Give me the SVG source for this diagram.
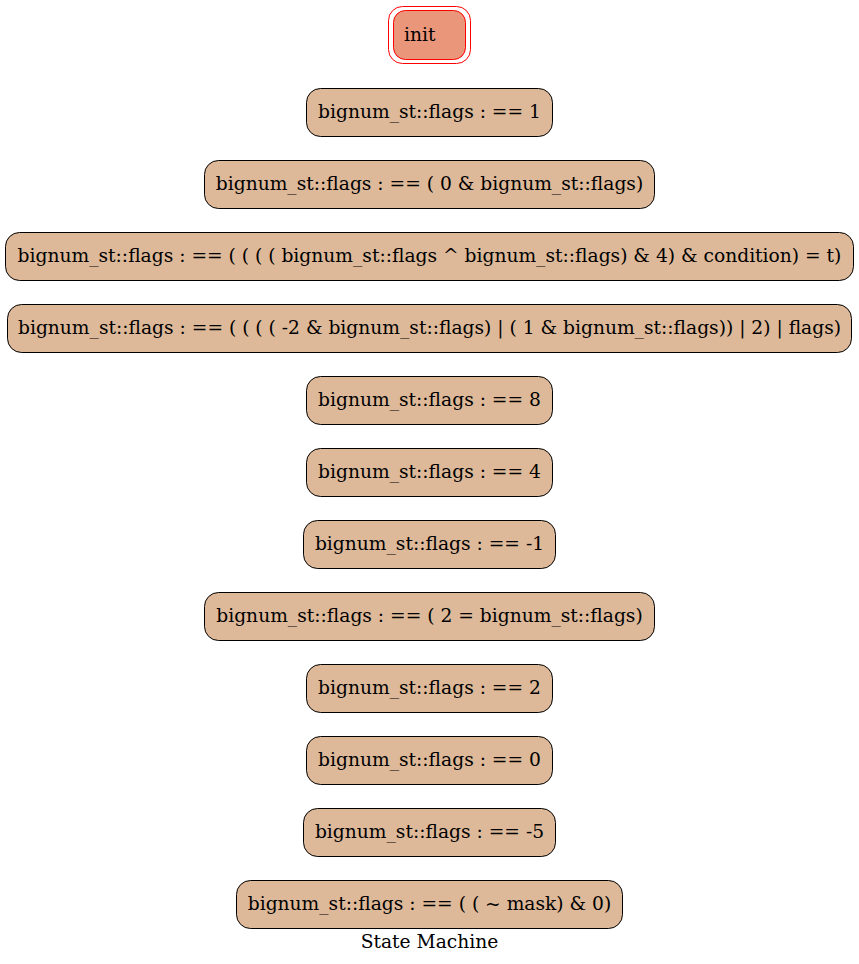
<svg xmlns="http://www.w3.org/2000/svg" width="859" height="964" viewBox="0 0 859 964">
<style>
.n rect{fill:#ddb999;stroke:#000;stroke-width:1}
text{font-family:"DejaVu Serif","Liberation Serif",serif;font-size:18.67px;fill:#000}
.c{text-anchor:middle}
</style>
<rect x="0" y="0" width="859" height="964" fill="#fff"/>
<g id="connectors"></g>
<g id="init">
<rect x="388.5" y="6.5" width="82" height="57" rx="14" fill="none" stroke="#ff0000"/>
<rect x="393.5" y="10.5" width="72" height="49" rx="12" fill="#e9967a" stroke="#ff0000"/>
<text x="404" y="41">init</text>
</g>
<g id="n1" class="n"><rect x="306.5" y="88.5" width="246" height="48" rx="14"/><text class="c" x="429.5" y="118">bignum_st::flags : == 1</text></g>
<g id="n2" class="n"><rect x="204.5" y="160.5" width="450" height="48" rx="14"/><text class="c" x="429.5" y="190">bignum_st::flags : == ( 0 &amp; bignum_st::flags)</text></g>
<g id="n3" class="n"><rect x="5.5" y="232.5" width="848" height="48" rx="14"/><text class="c" x="429.5" y="262">bignum_st::flags : == ( ( ( ( bignum_st::flags ^ bignum_st::flags) &amp; 4) &amp; condition) = t)</text></g>
<g id="n4" class="n"><rect x="7.5" y="304.5" width="844" height="48" rx="14"/><text class="c" x="429.5" y="334">bignum_st::flags : == ( ( ( ( -2 &amp; bignum_st::flags) | ( 1 &amp; bignum_st::flags)) | 2) | flags)</text></g>
<g id="n5" class="n"><rect x="306.5" y="376.5" width="246" height="48" rx="14"/><text class="c" x="429.5" y="406">bignum_st::flags : == 8</text></g>
<g id="n6" class="n"><rect x="306.5" y="448.5" width="246" height="48" rx="14"/><text class="c" x="429.5" y="478">bignum_st::flags : == 4</text></g>
<g id="n7" class="n"><rect x="303.5" y="520.5" width="252" height="48" rx="14"/><text class="c" x="429.5" y="550">bignum_st::flags : == -1</text></g>
<g id="n8" class="n"><rect x="204.5" y="592.5" width="450" height="48" rx="14"/><text class="c" x="429.5" y="622">bignum_st::flags : == ( 2 = bignum_st::flags)</text></g>
<g id="n9" class="n"><rect x="306.5" y="664.5" width="246" height="48" rx="14"/><text class="c" x="429.5" y="694">bignum_st::flags : == 2</text></g>
<g id="n10" class="n"><rect x="306.5" y="736.5" width="246" height="48" rx="14"/><text class="c" x="429.5" y="766">bignum_st::flags : == 0</text></g>
<g id="n11" class="n"><rect x="303.5" y="808.5" width="252" height="48" rx="14"/><text class="c" x="429.5" y="838">bignum_st::flags : == -5</text></g>
<g id="n12" class="n"><rect x="236.5" y="880.5" width="386" height="48" rx="14"/><text class="c" x="429.5" y="910">bignum_st::flags : == ( ( ~ mask) &amp; 0)</text></g>
<text class="c" x="429.5" y="948">State Machine</text>
</svg>
